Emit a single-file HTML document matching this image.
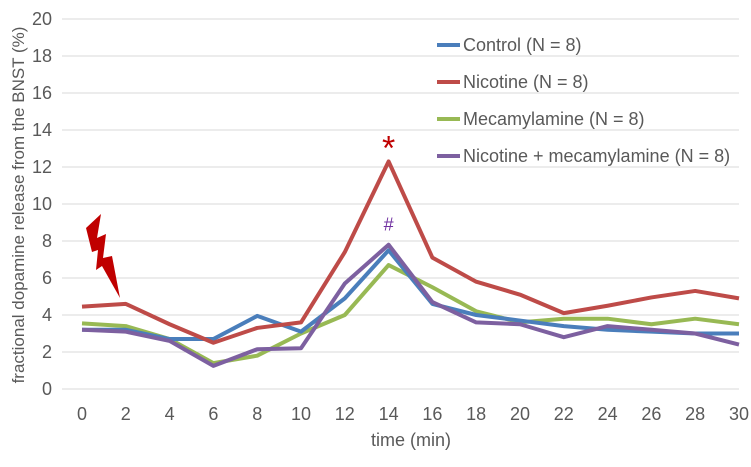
<!DOCTYPE html>
<html><head><meta charset="utf-8"><style>
body{margin:0;background:#fff;}
svg text{font-family:"Liberation Sans",sans-serif;fill:#595959;}
</style></head><body>
<svg width="751" height="462">
<g id="grid"></g><g id="ticks"></g><g id="lines"></g>
<text x="411" y="446" font-size="18" text-anchor="middle">time (min)</text>
<text transform="translate(24,205) rotate(-90)" font-size="17" text-anchor="middle">fractional dopamine release from the BNST (%)</text>
<polygon points="86,228 101,214 97,238 106,234 103,258 112,256 120,298 102,266 96,270 98,250 92,252" fill="#c00000"/>
<text id="star" font-size="34" style="fill:#c00000" text-anchor="middle">*</text>
<text id="hash" font-size="18" style="fill:#7030a0" text-anchor="middle">#</text>
<g id="legend"></g>
</svg>
<script>
const times=[0,2,4,6,8,10,12,14,16,18,20,22,24,26,28,30];
const yTicks=[0,2,4,6,8,10,12,14,16,18,20];
const seriesNames=["Control (N = 8)","Nicotine (N = 8)","Mecamylamine (N = 8)","Nicotine + mecamylamine (N = 8)"];
const control=[3.2,3.2,2.7,2.7,3.95,3.1,4.9,7.5,4.6,4.0,3.7,3.4,3.2,3.1,3.0,3.0];
const nicotine=[4.45,4.6,3.5,2.5,3.3,3.6,7.4,12.3,7.1,5.8,5.1,4.1,4.5,4.95,5.3,4.9];
const mecamylamine=[3.55,3.4,2.7,1.4,1.8,3.0,4.0,6.7,5.5,4.2,3.6,3.8,3.8,3.5,3.8,3.5];
const nicMec=[3.2,3.1,2.6,1.25,2.15,2.2,5.7,7.8,4.7,3.6,3.5,2.8,3.4,3.2,3.0,2.4];
const colors=["#4a7ebb","#be4b48","#98b954","#7d60a0"];
const ns="http://www.w3.org/2000/svg";
const X=t=>82+(t-0)*(739-82)/30;
const Y=v=>389-v*18.5;
function mk(tag,attrs,parent,text){const e=document.createElementNS(ns,tag);for(const k in attrs)e.setAttribute(k,attrs[k]);if(text!==undefined)e.textContent=text;parent.appendChild(e);return e;}
const grid=document.getElementById('grid'),ticks=document.getElementById('ticks'),lines=document.getElementById('lines'),legend=document.getElementById('legend');
yTicks.forEach(v=>{
 const l=mk('line',{x1:62,x2:739,y1:Y(v),y2:Y(v),stroke:'#d9d9d9','stroke-width':1},grid);
 
 
 const t=mk('text',{x:52,y:Y(v)+6,'font-size':18,'text-anchor':'end'},ticks,String(v));
 
 
});
times.forEach(v=>{
 const t=mk('text',{x:X(v),y:420,'font-size':18,'text-anchor':'middle'},ticks,String(v));
 
 
});
const data=[control,nicotine,mecamylamine,nicMec];
const lineNames=['control-line','nicotine-line','mecamylamine-line','nicotine-mecamylamine-line'];
[2,0,3,1].forEach(i=>{
 const p=mk('polyline',{points:data[i].map((v,j)=>X(times[j])+','+Y(v)).join(' '),fill:'none',stroke:colors[i],'stroke-width':4,'stroke-linejoin':'round'},lines);
 
 
});
const ix=times.indexOf(14);
const st=document.getElementById('star');st.setAttribute('x',X(14));st.setAttribute('y',Y(nicotine[ix])-2);
const hs=document.getElementById('hash');hs.setAttribute('x',X(14));hs.setAttribute('y',Y(nicMec[ix])-14);
seriesNames.forEach((n,i)=>{
 const y=45+i*37;
 const l=mk('line',{x1:437,x2:460,y1:y,y2:y,stroke:colors[i],'stroke-width':4},legend);
 
 
 const t=mk('text',{x:463,y:y+6,'font-size':18},legend,n);
 
 
});
</script>
</body></html>
